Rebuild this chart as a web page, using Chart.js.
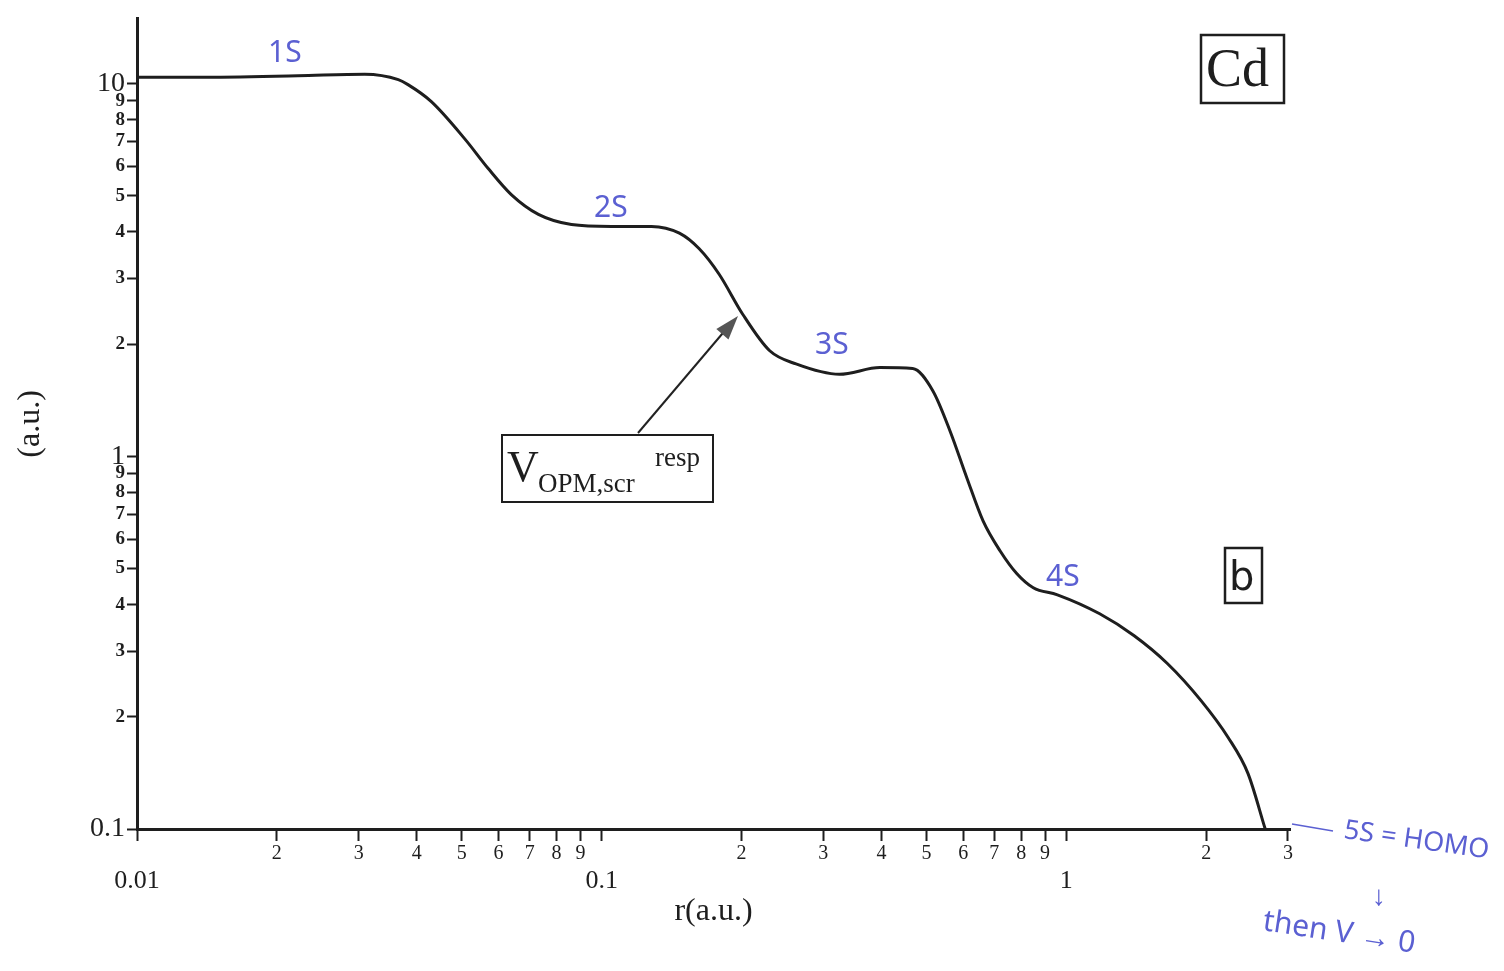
<!DOCTYPE html>
<html lang="en">
<head>
  <meta charset="UTF-8" />
  <title>Cd - V OPM,scr resp</title>
  <script src="https://cdn.jsdelivr.net/npm/chart.js"></script>
  <style>
    html, body { margin: 0; padding: 0; background: #fff; }
    canvas { display: block; }
  </style>
</head>
<body>
  <canvas id="potChart" width="1504" height="971"></canvas>
  <script>
    // r (a.u.) and potential (a.u.)
    const rValues = [0.01, 0.0135, 0.0222, 0.0309, 0.0365, 0.0383, 0.0430, 0.0508, 0.0570,
      0.0639, 0.0731, 0.0861, 0.105, 0.128, 0.147, 0.162, 0.179, 0.201, 0.230,
      0.262, 0.325, 0.397, 0.467, 0.516, 0.562, 0.611, 0.662, 0.720, 0.783,
      0.849, 0.957, 1.18, 1.40, 1.65, 1.95, 2.23, 2.46, 2.68];
    const vValues = [10.4, 10.4, 10.5, 10.6, 10.25, 9.94, 8.95, 7.10, 5.92,
      5.04, 4.46, 4.19, 4.14, 4.14, 3.97, 3.61, 3.08, 2.41, 1.92,
      1.77, 1.66, 1.73, 1.72, 1.50, 1.17, 0.875, 0.671, 0.558, 0.484,
      0.444, 0.425, 0.378, 0.330, 0.278, 0.221, 0.176, 0.141, 0.1];

    const xTickValues = [0.01, 0.02, 0.03, 0.04, 0.05, 0.06, 0.07, 0.08, 0.09,
      0.1, 0.2, 0.3, 0.4, 0.5, 0.6, 0.7, 0.8, 0.9, 1, 2, 3];
    const xTickLabels = ['0.01', '2', '3', '4', '5', '6', '7', '8', '9',
      '0.1', '2', '3', '4', '5', '6', '7', '8', '9', '1', '2', '3'];
    const yTickValues = [0.1, 0.2, 0.3, 0.4, 0.5, 0.6, 0.7, 0.8, 0.9,
      1, 2, 3, 4, 5, 6, 7, 8, 9, 10];
    const yTickLabels = ['0.1', '2', '3', '4', '5', '6', '7', '8', '9',
      '1', '2', '3', '4', '5', '6', '7', '8', '9', '10'];
    const majorValues = [0.01, 0.1, 1, 10];

    const ink = '#1e1e1e';
    const pen = '#5b60d2';
    const serif = '"Liberation Serif", "DejaVu Serif", serif';

    const annotations = {
      id: 'annotations',
      afterDraw(chart) {
        const ctx = chart.ctx;
        ctx.save();
        ctx.strokeStyle = ink;
        ctx.fillStyle = ink;
        ctx.lineWidth = 2.5;
        ctx.textAlign = 'left';
        ctx.textBaseline = 'alphabetic';

        // Cd box
        ctx.strokeRect(1201, 35, 83, 68);
        ctx.font = '54px ' + serif;
        ctx.fillText('Cd', 1206, 86);

        // b box
        ctx.strokeRect(1225, 548, 37, 55);
        ctx.font = '40px "DejaVu Sans", sans-serif';
        ctx.fillText('b', 1229, 590);

        // V label box
        ctx.lineWidth = 2;
        ctx.strokeRect(502, 435, 211, 67);
        ctx.font = '44px ' + serif;
        ctx.fillText('V', 507, 481);
        ctx.font = '27px ' + serif;
        ctx.fillText('OPM,scr', 538, 492);
        ctx.fillText('resp', 655, 466);

        // arrow to the curve
        ctx.strokeStyle = '#222';
        ctx.lineWidth = 2;
        ctx.beginPath();
        ctx.moveTo(638, 433);
        ctx.lineTo(728, 327);
        ctx.stroke();
        const ang = Math.atan2(316 - 433, 738 - 638);
        ctx.fillStyle = '#555';
        ctx.beginPath();
        ctx.moveTo(738, 316);
        ctx.lineTo(738 - 24 * Math.cos(ang) + 8 * Math.sin(ang), 316 - 24 * Math.sin(ang) - 8 * Math.cos(ang));
        ctx.lineTo(738 - 24 * Math.cos(ang) - 8 * Math.sin(ang), 316 - 24 * Math.sin(ang) + 8 * Math.cos(ang));
        ctx.closePath();
        ctx.fill();

        // handwritten notes
        ctx.fillStyle = pen;
        ctx.strokeStyle = pen;
        ctx.font = '30px "Noto Sans", sans-serif';
        ctx.fillText('1S', 268, 62);
        ctx.fillText('2S', 594, 217);
        ctx.fillText('3S', 815, 354);
        ctx.fillText('4S', 1046, 586);

        ctx.lineWidth = 1.5;
        ctx.beginPath();
        ctx.moveTo(1292, 824);
        ctx.lineTo(1333, 831);
        ctx.stroke();

        ctx.save();
        ctx.translate(1343, 838);
        ctx.rotate(0.14);
        ctx.font = '27px "Noto Sans", sans-serif';
        ctx.fillText('5S = HOMO', 0, 0);
        ctx.restore();

        ctx.font = '28px "Noto Sans", sans-serif';
        ctx.fillText('\u2193', 1372, 905);

        ctx.save();
        ctx.translate(1262, 930);
        ctx.rotate(0.15);
        ctx.font = '30px "Noto Sans", sans-serif';
        ctx.fillText('then V \u2192 0', 0, 0);
        ctx.restore();

        ctx.restore();
      }
    };

    const isMajor = v => majorValues.includes(v);

    new Chart(document.getElementById('potChart'), {
      type: 'line',
      data: {
        datasets: [{
          data: rValues.map((r, i) => ({ x: r, y: vValues[i] })),
          borderColor: ink,
          borderWidth: 3,
          pointRadius: 0,
          cubicInterpolationMode: 'monotone',
          fill: false
        }]
      },
      options: {
        responsive: false,
        animation: false,
        layout: { padding: { top: 7, right: 214, left: 0, bottom: 0 } },
        plugins: { legend: { display: false }, tooltip: { enabled: false } },
        scales: {
          x: {
            type: 'logarithmic',
            min: 0.01,
            max: 3.03,
            border: { display: true, color: ink, width: 3 },
            grid: { drawOnChartArea: false, tickLength: 12, tickColor: ink, tickWidth: 2 },
            afterBuildTicks: s => { s.ticks = xTickValues.map(v => ({ value: v })); },
            afterFit: s => { s.height = 142; },
            ticks: {
              autoSkip: false,
              maxRotation: 0,
              padding: 1,
              color: ink,
              callback: (v, i) => isMajor(v) ? ['', xTickLabels[i]] : xTickLabels[i],
              font: c => isMajor(c.tick && c.tick.value)
                ? { family: serif, size: 26, lineHeight: 1.0 }
                : { family: serif, size: 20, lineHeight: 1.2 }
            },
            title: {
              display: true,
              text: 'r(a.u.)',
              color: ink,
              font: { family: serif, size: 32 },
              padding: { top: 0, bottom: 40 }
            }
          },
          y: {
            type: 'logarithmic',
            min: 0.1,
            max: 14.93,
            border: { display: true, color: ink, width: 3 },
            grid: { drawOnChartArea: false, tickLength: 10, tickColor: ink, tickWidth: 2 },
            afterBuildTicks: s => { s.ticks = yTickValues.map(v => ({ value: v })); },
            afterFit: s => { s.width = 137; },
            ticks: {
              autoSkip: false,
              padding: 2,
              color: ink,
              callback: (v, i) => yTickLabels[i],
              font: c => isMajor(c.tick && c.tick.value)
                ? { family: serif, size: 28 }
                : { family: serif, size: 19, weight: 'bold' }
            },
            title: {
              display: true,
              text: '(a.u.)',
              color: ink,
              font: { family: serif, size: 32 },
              padding: { top: 11, bottom: 0 }
            }
          }
        }
      },
      plugins: [annotations]
    });
  </script>
</body>
</html>
